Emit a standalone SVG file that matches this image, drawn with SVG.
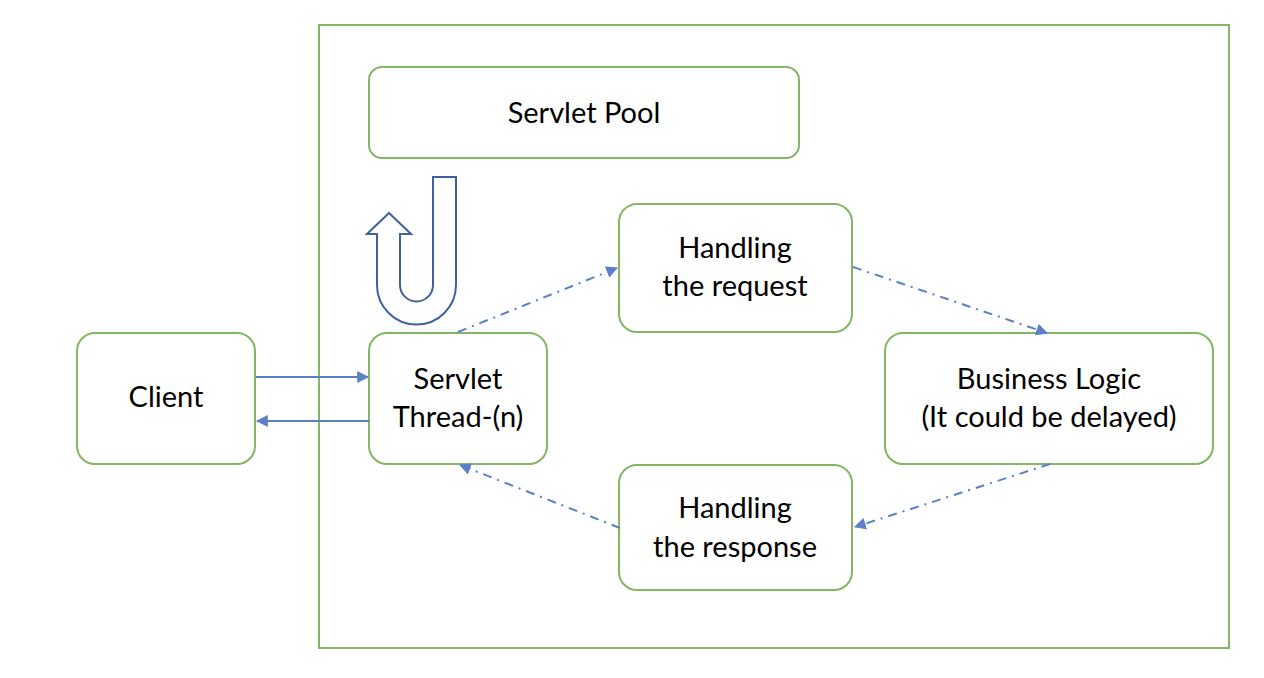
<svg xmlns="http://www.w3.org/2000/svg" width="1264" height="678" viewBox="0 0 1264 678">
<style>
.box{fill:#fff;stroke:#84B665;stroke-width:2}
.t{font-family:Lato,"Liberation Sans",sans-serif;font-size:29px;fill:#000;text-anchor:middle}
.solid{stroke:#5B7FC8;stroke-width:2;fill:none}
.dd{stroke:#5B7FC8;stroke-width:2;fill:none;stroke-dasharray:9 6 2 6}
</style>
<defs>
<marker id="ah" viewBox="0 0 10 10" refX="9" refY="5" markerWidth="6" markerHeight="6" orient="auto" markerUnits="strokeWidth">
<path d="M0,0 L10,5 L0,10 Z" fill="#5B7FC8"/>
</marker>
</defs>
<rect id="container" x="319" y="25" width="910" height="623" fill="#fff" stroke="#84B665" stroke-width="2"/>
<g id="servlet-pool"><rect class="box" x="369" y="67" width="430" height="91" rx="13"/><text class="t" x="584" y="123">Servlet Pool</text></g>
<g id="handling-request"><rect class="box" x="619" y="204" width="233" height="128" rx="18"/><text class="t" x="735" y="258">Handling</text><text class="t" x="735" y="296">the request</text></g>
<g id="client"><rect class="box" x="77" y="333" width="178" height="131" rx="18"/><text class="t" x="166" y="407">Client</text></g>
<g id="servlet-thread"><rect class="box" x="369" y="333" width="178" height="131" rx="18"/><text class="t" x="458" y="389">Servlet</text><text class="t" x="458" y="427">Thread-(n)</text></g>
<g id="business-logic"><rect class="box" x="885" y="333" width="328" height="131" rx="18"/><text class="t" x="1049" y="389">Business Logic</text><text class="t" x="1049" y="427">(It could be delayed)</text></g>
<g id="handling-response"><rect class="box" x="619" y="465" width="233" height="125" rx="18"/><text class="t" x="735" y="518">Handling</text><text class="t" x="735" y="557">the response</text></g>
<g id="u-turn"><path d="M433,177 L456,177 L456,285 A39.5,39.5 0 0 1 377,285 L377,234 L367,234 L389,213 L411,234 L400,234 L400,285 A16.5,16.5 0 0 0 433,285 Z" fill="#fff" stroke="#41609F" stroke-width="2" stroke-linejoin="miter"/></g>
<g id="connectors">
<line class="solid" x1="256" y1="377" x2="368" y2="377" marker-end="url(#ah)"/>
<line class="solid" x1="369" y1="421" x2="257" y2="421" marker-end="url(#ah)"/>
<line class="dd" x1="458" y1="332" x2="617" y2="268" marker-end="url(#ah)"/>
<line class="dd" x1="853" y1="267" x2="1047" y2="333" marker-end="url(#ah)"/>
<line class="dd" x1="1050" y1="464" x2="855" y2="527" marker-end="url(#ah)"/>
<line class="dd" x1="620" y1="528" x2="460" y2="465" marker-end="url(#ah)"/>
</g>
</svg>
